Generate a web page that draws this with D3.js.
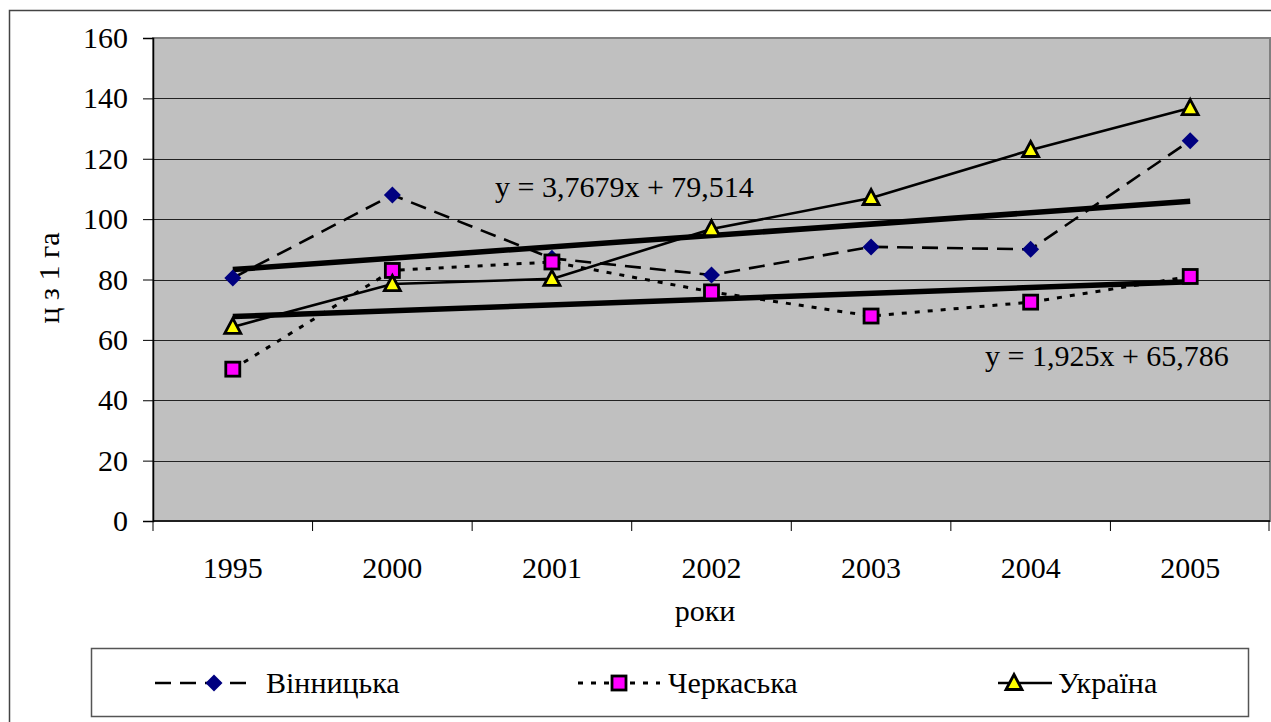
<!DOCTYPE html>
<html>
<head>
  <meta charset="utf-8">
  <script src="https://cdn.jsdelivr.net/npm/d3@7"></script>
  <style>
    body { margin: 0; background: #fff; }
    svg { display: block; font-family: 'Liberation Serif', 'Times New Roman', serif; }
  </style>
</head>
<body>
<script>
  // data
  var years = ["1995", "2000", "2001", "2002", "2003", "2004", "2005"];
  var vinnytska = [80.5, 108, 87, 81.5, 90.8, 90, 126];
  var cherkaska = [50.3, 83, 85.8, 75.9, 67.9, 72.5, 81];
  var ukraina = [64.3, 78.5, 80.2, 96.7, 107, 122.9, 136.8];
  var yTicks = [0, 20, 40, 60, 80, 100, 120, 140, 160];
  // trend lines: [slope, intercept] as printed on the chart
  var trendVin = [3.7679, 79.514];
  var trendCher = [1.925, 65.786];
  var trendVinLabel = "y = 3,7679x + 79,514";
  var trendCherLabel = "y = 1,925x + 65,786";

  (function() {
  var W = 1271, H = 722, fs = 30;
  var pLeft = 153, pRight = 1270, pTop = 38, pBottom = 521;

  var svg = d3.select("body").append("svg")
      .attr("width", W)
      .attr("height", H);

  // outer chart border (runs off the right/bottom edge)
  svg.append("rect")
      .attr("x", 9.5).attr("y", 10.5)
      .attr("width", W + 20).attr("height", H + 20)
      .attr("fill", "none")
      .attr("stroke", "#444")
      .attr("stroke-width", 1.5);

  var x = d3.scaleBand().domain(years).range([pLeft, pRight]);
  var y = d3.scaleLinear().domain([0, 160]).range([pBottom, pTop]);

  // plot area
  svg.append("rect")
      .attr("x", pLeft).attr("y", pTop)
      .attr("width", pRight - pLeft).attr("height", pBottom - pTop)
      .attr("fill", "#c0c0c0")
      .attr("stroke", "#808080")
      .attr("stroke-width", 2);

  // gridlines
  svg.append("g").selectAll("line")
      .data(yTicks.filter(function(d) { return d > 0 && d < 160; }))
      .enter().append("line")
      .attr("x1", pLeft).attr("x2", pRight)
      .attr("y1", function(d) { return Math.round(y(d)) + 0.5; })
      .attr("y2", function(d) { return Math.round(y(d)) + 0.5; })
      .attr("stroke", "#222")
      .attr("stroke-width", 1);

  // y axis
  var yAxis = svg.append("g")
      .attr("transform", "translate(" + pLeft + ",0)")
      .call(d3.axisLeft(y).tickValues(yTicks).tickSize(10).tickPadding(15));
  yAxis.select(".domain").attr("stroke", "#000").attr("stroke-width", 1.5);
  yAxis.selectAll(".tick line").attr("stroke", "#000");
  yAxis.selectAll("text").attr("font-size", fs).attr("fill", "#000")
      .attr("font-family", "'Liberation Serif', serif");

  // x axis: ticks on the band boundaries
  var xAxis = svg.append("g")
      .attr("transform", "translate(0," + pBottom + ")");
  xAxis.append("line")
      .attr("x1", pLeft).attr("x2", pRight)
      .attr("stroke", "#000").attr("stroke-width", 1.5);
  xAxis.selectAll(".tk")
      .data(years.concat(["end"]))
      .enter().append("line")
      .attr("class", "tk")
      .attr("x1", function(d, i) { return i < years.length ? x(d) : pRight - 1; })
      .attr("x2", function(d, i) { return i < years.length ? x(d) : pRight - 1; })
      .attr("y1", 0).attr("y2", 10)
      .attr("stroke", "#000").attr("stroke-width", 1);
  xAxis.selectAll("text")
      .data(years)
      .enter().append("text")
      .attr("x", function(d) { return x(d) + x.bandwidth() / 2; })
      .attr("y", 57)
      .attr("text-anchor", "middle")
      .attr("font-size", fs)
      .text(function(d) { return d; });

  // axis titles
  svg.append("text")
      .attr("x", 705).attr("y", 621)
      .attr("text-anchor", "middle")
      .attr("font-size", fs)
      .text("роки");
  svg.append("text")
      .attr("transform", "translate(59,278) rotate(-90)")
      .attr("text-anchor", "middle")
      .attr("font-size", fs)
      .text("ц з 1 га");

  var cx = function(i) { return x(years[i]) + x.bandwidth() / 2; };

  // trend lines
  [trendVin, trendCher].forEach(function(t) {
    var n = years.length;
    svg.append("line")
        .attr("x1", cx(0)).attr("y1", y(t[0] * 1 + t[1]))
        .attr("x2", cx(n - 1)).attr("y2", y(t[0] * n + t[1]))
        .attr("stroke", "#000")
        .attr("stroke-width", 5.5);
  });

  var line = d3.line()
      .x(function(d, i) { return cx(i); })
      .y(function(d) { return y(d); });

  var series = [
    { name: "Вінницька", values: vinnytska, dash: "16,9", width: 2.6, marker: "diamond" },
    { name: "Черкаська", values: cherkaska, dash: "5,8", width: 3, marker: "square" },
    { name: "Україна", values: ukraina, dash: null, width: 2.6, marker: "triangle" }
  ];

  series.forEach(function(s) {
    svg.append("path")
        .datum(s.values)
        .attr("d", line)
        .attr("fill", "none")
        .attr("stroke", "#000")
        .attr("stroke-width", s.width)
        .attr("stroke-dasharray", s.dash);
  });

  function drawMarker(g, type, px, py) {
    if (type === "diamond") {
      g.append("path")
          .attr("d", "M" + px + "," + (py - 8.5) + "L" + (px + 8.5) + "," + py +
                "L" + px + "," + (py + 8.5) + "L" + (px - 8.5) + "," + py + "Z")
          .attr("fill", "#000080");
    } else if (type === "square") {
      g.append("rect")
          .attr("x", px - 7).attr("y", py - 7)
          .attr("width", 14).attr("height", 14)
          .attr("fill", "#ff00ff")
          .attr("stroke", "#000").attr("stroke-width", 2.8);
    } else {
      g.append("path")
          .attr("d", "M" + px + "," + (py - 8.5) + "L" + (px + 8) + "," + (py + 6.5) +
                "L" + (px - 8) + "," + (py + 6.5) + "Z")
          .attr("fill", "#ffff00")
          .attr("stroke", "#000").attr("stroke-width", 2.8)
          .attr("stroke-linejoin", "miter");
    }
  }

  series.forEach(function(s) {
    var g = svg.append("g");
    s.values.forEach(function(v, i) { drawMarker(g, s.marker, cx(i), y(v)); });
  });

  // trend equations
  svg.append("text")
      .attr("x", 495).attr("y", 197)
      .attr("font-size", fs)
      .text(trendVinLabel);
  svg.append("text")
      .attr("x", 985).attr("y", 366)
      .attr("font-size", fs)
      .text(trendCherLabel);

  // legend
  var legend = svg.append("g");
  legend.append("rect")
      .attr("x", 91.5).attr("y", 648.5)
      .attr("width", 1157).attr("height", 68)
      .attr("fill", "#fff")
      .attr("stroke", "#555")
      .attr("stroke-width", 1.5);

  var legendPos = [
    { x1: 155, x2: 255, m: 214, t: 266 },
    { x1: 578, x2: 660, m: 619, t: 668 },
    { x1: 998, x2: 1052, m: 1014, t: 1058 }
  ];
  series.forEach(function(s, i) {
    var p = legendPos[i], ly = 683;
    legend.append("line")
        .attr("x1", p.x1).attr("x2", p.x2)
        .attr("y1", ly).attr("y2", ly)
        .attr("stroke", "#000")
        .attr("stroke-width", s.width)
        .attr("stroke-dasharray", s.dash);
    drawMarker(legend, s.marker, p.m, ly);
    legend.append("text")
        .attr("x", p.t).attr("y", ly + 10)
        .attr("font-size", fs)
        .text(s.name);
  });
  })();
</script>
</body>
</html>
